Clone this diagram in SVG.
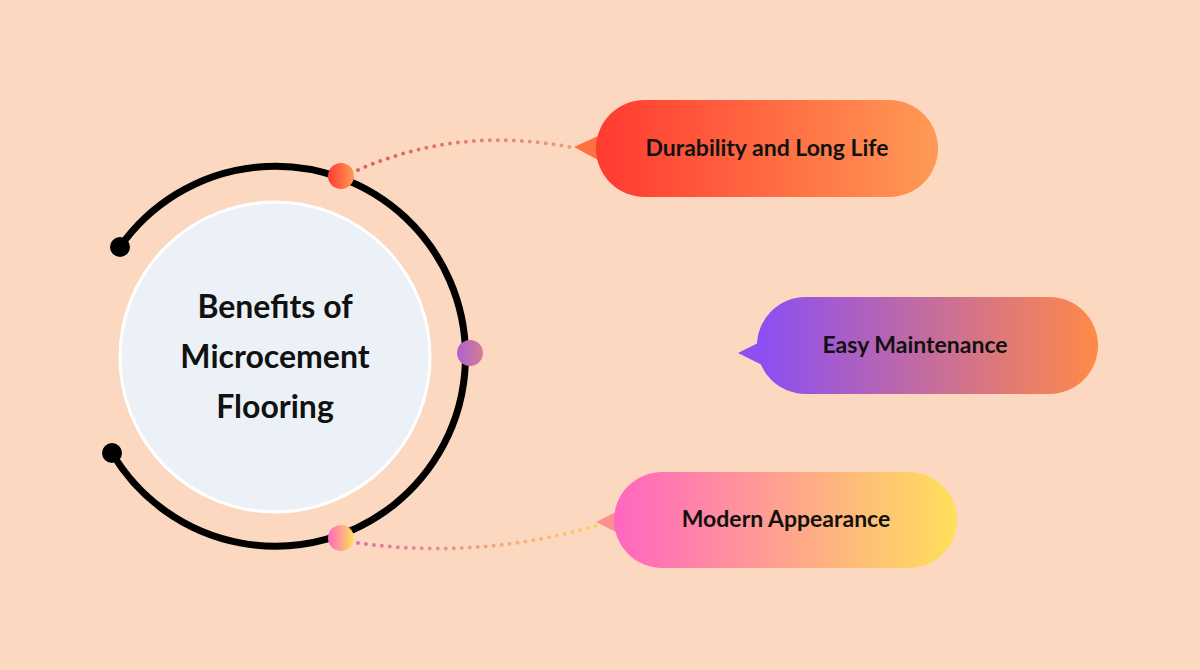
<svg xmlns="http://www.w3.org/2000/svg" width="1200" height="670" viewBox="0 0 1200 670">
<defs>
<linearGradient id="g1" x1="0" x2="1"><stop offset="0" stop-color="#ff3a30"/><stop offset="1" stop-color="#ff9a55"/></linearGradient>
<linearGradient id="g2" x1="0" x2="1"><stop offset="0" stop-color="#8a4ef5"/><stop offset="1" stop-color="#ff8a48"/></linearGradient>
<linearGradient id="g3" x1="0" x2="1"><stop offset="0" stop-color="#ff66c0"/><stop offset="1" stop-color="#ffe05a"/></linearGradient>
<linearGradient id="d1" x1="0" x2="1"><stop offset="0" stop-color="#d9605a"/><stop offset="1" stop-color="#e8a080"/></linearGradient>
<linearGradient id="d2" x1="0" x2="1"><stop offset="0" stop-color="#b060d0"/><stop offset="1" stop-color="#d08090"/></linearGradient>
<linearGradient id="d3" x1="0" x2="1"><stop offset="0" stop-color="#e070b0"/><stop offset="1" stop-color="#ffd060"/></linearGradient>
<style>
.lbl{font-family:"Lato","Liberation Sans",sans-serif;font-weight:bold;font-size:23px;fill:#111;text-anchor:middle}
.dot{fill:none;stroke-width:4;stroke-dasharray:0 8;stroke-linecap:round}
</style>
</defs>
<rect width="1200" height="670" fill="#fdd8c0"/>
<g id="center">
<circle cx="275" cy="357" r="155" fill="#ecf1f7" stroke="#ffffff" stroke-width="3"/>
<path d="M120 247 A190 190 0 1 1 112 453" fill="none" stroke="#000" stroke-width="7"/>
<circle cx="120" cy="247" r="10" fill="#000"/>
<circle cx="112" cy="453" r="10" fill="#000"/>
<text class="lbl" style="font-size:32px" x="275" y="318">Benefits of</text>
<text class="lbl" style="font-size:32px" x="275" y="368">Microcement</text>
<text class="lbl" style="font-size:32px" x="275" y="418">Flooring</text>
</g>
<g id="connectors">
<path class="dot" stroke="url(#d1)" d="M358 170 Q460 125 575 148"/>
<path class="dot" stroke="url(#d2)" d="M488 353 L740 353"/>
<path class="dot" stroke="url(#d3)" d="M358 543 Q480 560 598 525"/>
<circle cx="341" cy="176" r="13" fill="url(#g1)"/>
<circle cx="470" cy="353" r="13" fill="url(#d2)"/>
<circle cx="341" cy="538" r="13" fill="url(#g3)"/>
<polygon points="574,147 598,136 598,160" fill="#ff7040"/>
<polygon points="738,353 762,341 762,365" fill="#9050f0"/>
<polygon points="596,522 620,510 620,534" fill="#ff9090"/>
</g>
<g id="n1"><rect x="596" y="100" width="342" height="97" rx="48.5" fill="url(#g1)"/><text class="lbl" x="767" y="156">Durability and Long Life</text></g>
<g id="n2"><rect x="757" y="297" width="341" height="97" rx="48.5" fill="url(#g2)"/><text class="lbl" x="915" y="353">Easy Maintenance</text></g>
<g id="n3"><rect x="614" y="472" width="343" height="96" rx="48" fill="url(#g3)"/><text class="lbl" x="786" y="527">Modern Appearance</text></g>
</svg>
